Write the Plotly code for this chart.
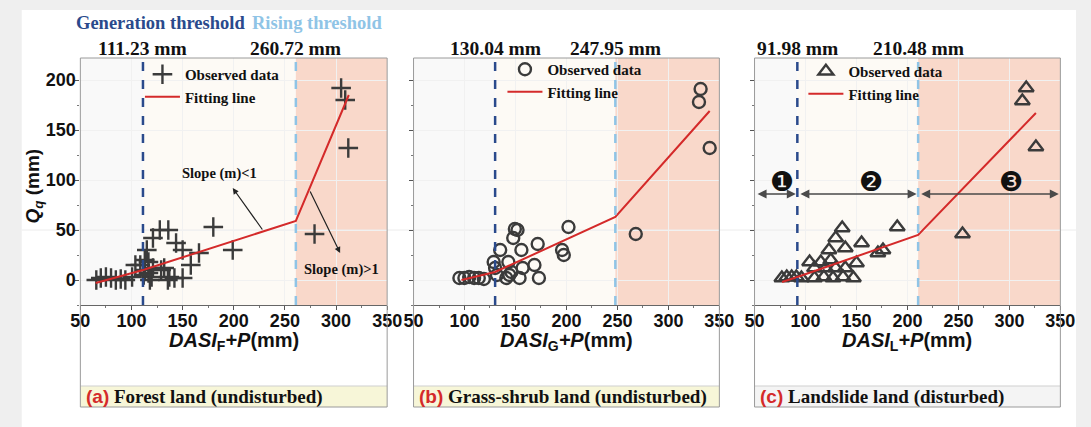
import plotly.graph_objects as go

W, H = 1091, 427

# ---------------- data ----------------
a_x = [65.6, 70, 75, 80, 84.7, 89.5, 94, 100.6, 103.8, 108.6, 113, 115, 121, 127.7, 136, 143.6, 150, 166,
       158, 180, 199, 132, 137, 142, 150, 113, 116.6, 119.7, 118, 112, 121, 116.6, 129, 135.6, 279, 305, 309, 312]
a_y = [0, 2, 3, 2, 0, 1, 0, 3, 15, 15, 20, 30, 42, 50, 50, 37, 30, 27,
       15, 53, 30, 12, 3, 2, 2, 10, 7, 3, 0, 5, 12, 18, 10, 0, 46, 192, 180, 132]
a_fit_x = [65, 111.23, 260.72, 312.5]
a_fit_y = [-3, 10, 59, 185]

b_x = [95, 99.9, 104.6, 109.4, 114, 119, 128.6, 130, 135, 131.8, 149.4, 152, 147.8, 155.8, 143, 146, 141,
       154, 157, 168.6, 171.8, 173, 195.7, 197.4, 202, 144, 268, 331.6, 330, 340.5]
b_y = [2, 2, 3, 2, 2, 1, 18, 12, 30, 5, 51, 50, 42, 30, 18, 8, 2,
       2, 12, 15, 36, 2, 30, 25, 53, 5, 46, 191, 178, 132]
b_fit_x = [97, 130.04, 247.95, 340.5]
b_fit_y = [0, 8, 63, 169]

c_x = [76.8, 81.6, 86.4, 91, 96, 104, 108.8, 115, 123, 129.6, 136, 139, 124.8, 129.6, 139, 150, 155, 108.8,
       118, 127, 136.8, 147, 119.6, 171, 176, 190, 254, 316.5, 312.7, 326]
c_y = [2, 3, 3, 3, 2, 18, 12, 18, 30, 42, 52, 32, 20, 12, 12, 17, 37, 2,
       3, 2, 3, 2, 12, 27, 30, 53, 46, 192, 179, 133]
c_fit_x = [77, 91.98, 210.48, 326]
c_fit_y = [-2, 3, 45, 167]

gen_thr = [111.23, 130.04, 91.98]
rise_thr = [260.72, 247.95, 210.48]
thr_labels = [("111.23 mm", "260.72 mm"), ("130.04 mm", "247.95 mm"), ("91.98 mm", "210.48 mm")]
captions = [("(a)", " Forest land (undisturbed)"), ("(b)", " Grass-shrub land (undisturbed)"),
            ("(c)", " Landslide land (disturbed)")]
xtitle_sub = ["F", "G", "L"]
x_ticks = [50, 100, 150, 200, 250, 300, 350]
y_ticks = [0, 50, 100, 150, 200]
x_range = [50, 350]
y_range = [-25, 222]
zone_labels = ["❶", "❷", "❸"]
zone_label_x = [77, 164, 302]

# ---------------- layout geometry (pixels) ----------------
panels = [(72, 386), (413, 726), (762, 1075)]
plot_top, plot_bot = 58, 305
cap_top, cap_bot = 386, 407
legend_pos = [(133, 58), (504, 53), (812, 55)]


def px(x):
    return x / W


def py(y):
    return 1 - y / H


SERIF = "Liberation Serif, Times New Roman, serif"
SANS = "Liberation Sans, Arial, sans-serif"
DARKBLUE = "#2a4a8c"
LIGHTBLUE = "#8fc4e6"
RED = "#d42a2a"
MK = "#3b3b3b"

fig = go.Figure()

datasets = [(a_x, a_y, a_fit_x, a_fit_y, "cross-thin", 14),
            (b_x, b_y, b_fit_x, b_fit_y, "circle-open", 12),
            (c_x, c_y, c_fit_x, c_fit_y, "triangle-up-open", 13)]

shapes = []
annotations = []


def note(x, y, text, size, color="#111", family=SERIF, xanchor="center", **kw):
    d = dict(x=x, y=y, xref="paper", yref="paper", text=text, showarrow=False,
             font=dict(family=family, size=size, color=color), xanchor=xanchor, yanchor="middle")
    d.update(kw)
    annotations.append(d)


# white card on grey page
shapes.append(dict(type="rect", xref="paper", yref="paper", x0=px(12), x1=1, y0=0, y1=py(10),
                   fillcolor="white", line=dict(width=0), layer="below"))

for i, (x0p, x1p) in enumerate(panels):
    n = "" if i == 0 else str(i + 1)
    xa, ya = "x" + n, "y" + n
    xs, ys, fx, fy, sym, size = datasets[i]
    lg = "legend" if i == 0 else "legend" + str(i + 1)

    fig.add_trace(go.Scatter(x=xs, y=ys, mode="markers", xaxis=xa, yaxis=ya, legend=lg,
                             name="<b>Observed data</b>",
                             marker=dict(symbol=sym, size=size, color=MK, line=dict(width=2.4, color=MK))))
    fig.add_trace(go.Scatter(x=fx, y=fy, mode="lines", xaxis=xa, yaxis=ya, legend=lg,
                             name="<b>Fitting line</b>", line=dict(color=RED, width=2)))

    xdom = [px(x0p), px(x1p)]
    ydom = [py(plot_bot), py(plot_top)]
    fig.layout["xaxis" + n] = dict(domain=xdom, range=x_range, anchor=ya, tickvals=x_ticks,
                                   ticks="outside", ticklen=4, tickcolor="#555", showline=True,
                                   linecolor="#666", linewidth=1, showgrid=True, gridcolor="#f1f1f1",
                                   zeroline=False, ticklabelstandoff=-5,
                                   tickfont=dict(family=SANS, size=18, color="#111", weight="bold"),
                                   minor=dict(dtick=25, ticks="outside", ticklen=2, tickcolor="#777"))
    fig.layout["yaxis" + n] = dict(domain=ydom, range=y_range, anchor=xa, tickvals=y_ticks,
                                   ticks="outside", ticklen=4, tickcolor="#555",
                                   showticklabels=(i == 0), showline=False, showgrid=True,
                                   gridcolor="#f1f1f1", zeroline=False, ticklabelstandoff=-4,
                                   tickfont=dict(family=SANS, size=18, color="#111", weight="bold"),
                                   minor=dict(dtick=25, ticks="outside", ticklen=2, tickcolor="#777"))

    # background zones
    xr = xa
    yd = ya + " domain"
    shapes.append(dict(type="rect", xref=xr, yref=yd, x0=x_range[0], x1=gen_thr[i], y0=0, y1=1,
                       fillcolor="#f9f9f9", line=dict(width=0), layer="below"))
    shapes.append(dict(type="rect", xref=xr, yref=yd, x0=gen_thr[i], x1=rise_thr[i], y0=0, y1=1,
                       fillcolor="#fdfaf5", line=dict(width=0), layer="below"))
    shapes.append(dict(type="rect", xref=xr, yref=yd, x0=rise_thr[i], x1=x_range[1], y0=0, y1=1,
                       fillcolor="#f9d8ca", line=dict(width=0), layer="below"))
    # threshold lines
    shapes.append(dict(type="line", xref=xr, yref=yd, x0=gen_thr[i], x1=gen_thr[i], y0=0, y1=1,
                       line=dict(color=DARKBLUE, width=2.5, dash="dash")))
    shapes.append(dict(type="line", xref=xr, yref=yd, x0=rise_thr[i], x1=rise_thr[i], y0=0, y1=1,
                       line=dict(color=LIGHTBLUE, width=2.5, dash="dash")))
    # panel frame and caption box
    shapes.append(dict(type="rect", xref="paper", yref="paper", x0=px(x0p), x1=px(x1p),
                       y0=py(cap_bot), y1=py(cap_top),
                       fillcolor="#f7f6d8" if i < 2 else "#f4f4f4", line=dict(width=0), layer="below"))
    shapes.append(dict(type="line", xref="paper", yref="paper", x0=px(x0p), x1=px(x1p),
                       y0=py(cap_top), y1=py(cap_top), line=dict(color="#cfcfcf", width=1)))
    shapes.append(dict(type="rect", xref="paper", yref="paper", x0=px(x0p), x1=px(x1p),
                       y0=py(cap_bot), y1=py(plot_top), line=dict(color="#9a9a9a", width=1)))

    # threshold value labels
    for val, lab in zip((gen_thr[i], rise_thr[i]), thr_labels[i]):
        annotations.append(dict(x=val, xref=xr, y=py(48), yref="paper", text="<b>" + lab + "</b>",
                                showarrow=False, font=dict(family=SERIF, size=19.5, color="#111"),
                                xanchor="center", yanchor="middle"))
    # x title
    note((px(x0p) + px(x1p)) / 2, py(341),
         "<b><i>DASI</i><sub>%s</sub><i>+P</i>(mm)</b>" % xtitle_sub[i], 20, family=SANS)
    # caption
    note(px(x0p + 4), py(397),
         "<b><span style='color:%s;font-family:Liberation Sans'>%s</span>%s</b>"
         % (RED, captions[i][0], captions[i][1]), 19, xanchor="left")

# header texts
note(px(154), py(23), "<b>Generation threshold</b>", 18.5, color=DARKBLUE)
note(px(314), py(23), "<b>Rising threshold</b>", 18.5, color=LIGHTBLUE)

# y title
note(px(25), py(186), "<b><i>Q</i><sub><i>q</i></sub> (mm)</b>", 19, family=SANS, textangle=-90)

# slope annotations panel (a)
annotations.append(dict(x=186, y=107, xref="x", yref="y", text="<b>Slope (m)&lt;1</b>", showarrow=False,
                        xanchor="center", yanchor="middle", font=dict(family=SERIF, size=14.5, color="#111")))
annotations.append(dict(x=199, y=92, ax=229, ay=49, xref="x", yref="y", axref="x", ayref="y", text="",
                        showarrow=True, arrowhead=2, arrowsize=1, arrowwidth=1.2, arrowcolor="#222"))
annotations.append(dict(x=305, y=11, xref="x", yref="y", text="<b>Slope (m)&gt;1</b>", showarrow=False,
                        xanchor="center", yanchor="middle", font=dict(family=SERIF, size=14.5, color="#111")))
annotations.append(dict(x=304, y=27, ax=274, ay=90, xref="x", yref="y", axref="x", ayref="y", text="",
                        showarrow=True, arrowhead=2, arrowsize=1, arrowwidth=1.2, arrowcolor="#222"))

# zone arrows panel (c)
bounds = [x_range[0], gen_thr[2], rise_thr[2], x_range[1]]
for k in range(3):
    annotations.append(dict(x=bounds[k + 1] - 1.5, y=86, ax=bounds[k] + 1.5, ay=86, xref="x3", yref="y3",
                            axref="x3", ayref="y3", text="", showarrow=True, arrowhead=2,
                            arrowside="end+start", arrowsize=1.2, arrowwidth=1.5, arrowcolor="#4a4a4a"))
    annotations.append(dict(x=zone_label_x[k], y=99, xref="x3", yref="y3", text=zone_labels[k],
                            showarrow=False, xanchor="center", yanchor="middle",
                            font=dict(family="DejaVu Sans", size=27, color="#111")))

# long faint line at y=50
shapes.append(dict(type="line", xref="paper", yref="y", x0=px(12), x1=1, y0=50, y1=50,
                   line=dict(color="#ececec", width=1), layer="below"))

leg_common = dict(bgcolor="rgba(0,0,0,0)", borderwidth=0, xanchor="left", yanchor="top",
                  font=dict(family=SERIF, size=15, color="#111"), itemwidth=35, tracegroupgap=0,
                  traceorder="normal")
legs = {}
for i, (lx, ly) in enumerate(legend_pos):
    key = "legend" if i == 0 else "legend" + str(i + 1)
    legs[key] = dict(x=px(lx), y=py(ly), **leg_common)

fig.update_layout(
    width=W, height=H, margin=dict(l=0, r=0, t=0, b=0),
    paper_bgcolor="#efefef", plot_bgcolor="rgba(0,0,0,0)",
    showlegend=True,
    shapes=shapes, annotations=annotations,
    **legs,
)

fig.write_html("out.html", config={"displayModeBar": False},
               post_script="document.body.style.margin='0';document.body.style.background='#efefef';")
